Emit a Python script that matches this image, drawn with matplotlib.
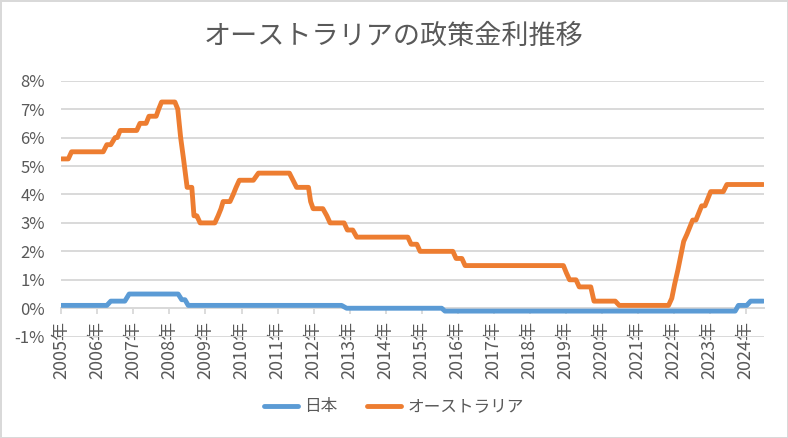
import matplotlib.pyplot as plt
from matplotlib.lines import Line2D

jp_font = ['Noto Sans CJK JP', 'DejaVu Sans']
plt.rcParams['font.family'] = jp_font

title = 'オーストラリアの政策金利推移'
years = list(range(2005, 2025))
year_labels = [f'{y}年' for y in years]
y_ticks = [-1, 0, 1, 2, 3, 4, 5, 6, 7, 8]
y_labels = [f'{v}%' for v in y_ticks]

# 日本 (decimal years)
jp_x = [2005.0, 2006.26, 2006.37, 2006.76, 2006.88, 2008.24, 2008.34, 2008.43,
        2008.52, 2012.78, 2012.92, 2015.56, 2015.65, 2023.71, 2023.80, 2024.03,
        2024.14, 2024.49]
jp_y = [0.1, 0.1, 0.25, 0.25, 0.5, 0.5, 0.3, 0.3,
        0.1, 0.1, 0.0, 0.0, -0.1, -0.1, 0.1, 0.1,
        0.25, 0.25]

# オーストラリア
au_x = [2005.0, 2005.19, 2005.28, 2006.16, 2006.26, 2006.37, 2006.49, 2006.55,
        2006.63, 2007.09, 2007.18, 2007.35, 2007.43, 2007.63, 2007.70, 2007.78,
        2008.15, 2008.23, 2008.31, 2008.39, 2008.49, 2008.62, 2008.68, 2008.76,
        2008.85, 2009.26, 2009.35, 2009.43, 2009.49, 2009.68, 2009.77, 2009.85,
        2009.94, 2010.33, 2010.47, 2011.33, 2011.43, 2011.53, 2011.86, 2011.92,
        2011.99, 2012.26, 2012.37, 2012.46, 2012.85, 2012.94, 2013.09, 2013.20,
        2014.62, 2014.71, 2014.87, 2014.96, 2015.87, 2015.96, 2016.12, 2016.21,
        2018.94, 2019.02, 2019.11, 2019.29, 2019.38, 2019.70, 2019.79, 2020.38,
        2020.49, 2021.86, 2021.95, 2022.03, 2022.12, 2022.20, 2022.28, 2022.37,
        2022.45, 2022.53, 2022.62, 2022.70, 2022.78, 2022.87, 2022.95, 2023.03,
        2023.38, 2023.48, 2024.49]
au_y = [5.25, 5.25, 5.5, 5.5, 5.75, 5.75, 6.0, 6.0,
        6.25, 6.25, 6.5, 6.5, 6.75, 6.75, 7.0, 7.25,
        7.25, 7.0, 6.0, 5.25, 4.25, 4.25, 3.25, 3.25,
        3.0, 3.0, 3.25, 3.5, 3.75, 3.75, 4.0, 4.25,
        4.5, 4.5, 4.75, 4.75, 4.5, 4.25, 4.25, 3.75,
        3.5, 3.5, 3.25, 3.0, 3.0, 2.75, 2.75, 2.5,
        2.5, 2.25, 2.25, 2.0, 2.0, 1.75, 1.75, 1.5,
        1.5, 1.25, 1.0, 1.0, 0.75, 0.75, 0.25, 0.25,
        0.1, 0.1, 0.35, 0.85, 1.35, 1.85, 2.35, 2.6,
        2.85, 3.1, 3.1, 3.35, 3.6, 3.6, 3.85, 4.1,
        4.1, 4.35, 4.35]

blue = '#5B9BD5'
orange = '#ED7D31'
grey_txt = '#595959'
grid_c = '#D9D9D9'

fig = plt.figure(figsize=(7.88, 4.38), dpi=100)
fig.patch.set_edgecolor(grid_c)
fig.patch.set_linewidth(2)
ax = fig.add_axes([0.078, 0.2313, 0.8915, 0.5845])

for s in ['left', 'right', 'top']:
    ax.spines[s].set_visible(False)
ax.spines['bottom'].set_position(('data', 0))
ax.spines['bottom'].set_color(grid_c)
ax.spines['bottom'].set_linewidth(1.4)

ax.plot(jp_x, jp_y, color=blue, lw=3.5, solid_capstyle='round', solid_joinstyle='round', label='日本', zorder=3)
ax.plot(au_x, au_y, color=orange, lw=3.5, solid_capstyle='round', solid_joinstyle='round', label='オーストラリア', zorder=4)

ax.set_xlim(2005, 2024.51)
ax.set_ylim(-1, 8)
ax.set_yticks(y_ticks)
ax.set_yticklabels(y_labels)
ax.set_xticks(years)
ax.set_xticklabels(year_labels)
ax.tick_params(axis='y', length=0, pad=12, labelsize=12, labelcolor=grey_txt)
ax.tick_params(axis='x', direction='out', length=4.3, width=1.3, color=grid_c, pad=5,
               labelrotation=90, labelsize=13, labelcolor=grey_txt)

ax.grid(axis='y', color=grid_c, lw=1.4)
ax.set_axisbelow(True)

fig.text(0.5, 1 - 36 / 438, title, ha='center', va='center', fontsize=19.5, color=grey_txt)

handles = [Line2D([], [], color=blue, lw=3.5, solid_capstyle='round'),
           Line2D([], [], color=orange, lw=3.5, solid_capstyle='round')]
fig.legend(handles, ['日本', 'オーストラリア'], loc='center', bbox_to_anchor=(0.5, 1 - 407 / 438),
           ncol=2, frameon=False, fontsize=12, labelcolor=grey_txt,
           handlelength=2.0, handletextpad=0.4, columnspacing=1.8)

fig.savefig('out.png', dpi=100)
